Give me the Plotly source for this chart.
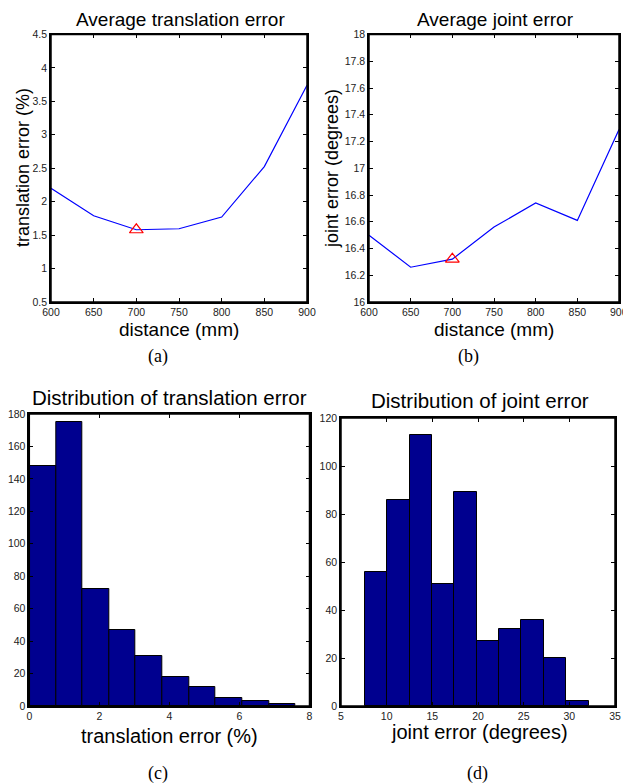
import plotly.graph_objects as go

W, H = 623, 783

# ---- data ----
distance_mm = [600, 650, 700, 750, 800, 850, 900]
avg_translation_err = [2.20, 1.79, 1.58, 1.595, 1.77, 2.525, 3.74]
avg_joint_err = [16.50, 16.26, 16.32, 16.56, 16.74, 16.61, 17.29]
best_distance = 700
best_translation = 1.58
best_joint = 16.32

trans_bin_edges = [0.0, 0.76, 1.52, 2.28, 3.04, 3.80, 4.56, 5.32, 6.08, 6.84, 7.60]
trans_counts = [148, 175, 72, 47, 31, 18, 12, 5, 3, 1]

joint_bin_edges = [7.6, 10.05, 12.5, 14.95, 17.4, 19.85, 22.3, 24.75, 27.2, 29.65, 32.1]
joint_counts = [56, 86, 113, 51, 89, 27, 32, 36, 20, 2]

# ---- helpers ----
def px(x):
    return x / W

def py(y):
    return 1 - y / H

FONT = "Liberation Sans, Arial, Helvetica, sans-serif"
SERIF = "Liberation Serif, Times New Roman, serif"
BAR_COLOR = "#00008F"

fig = go.Figure()

# (a)
fig.add_trace(go.Scatter(x=distance_mm, y=avg_translation_err, mode="lines",
                         line=dict(color="#0000FF", width=1.2),
                         xaxis="x", yaxis="y", showlegend=False))
fig.add_trace(go.Scatter(x=[best_distance], y=[best_translation], mode="markers",
                         marker=dict(symbol="triangle-up-open", size=12,
                                     color="#FF0000", line=dict(width=1.2, color="#FF0000")),
                         xaxis="x", yaxis="y", showlegend=False))
# (b)
fig.add_trace(go.Scatter(x=distance_mm, y=avg_joint_err, mode="lines",
                         line=dict(color="#0000FF", width=1.2),
                         xaxis="x2", yaxis="y2", showlegend=False))
fig.add_trace(go.Scatter(x=[best_distance], y=[best_joint], mode="markers",
                         marker=dict(symbol="triangle-up-open", size=12,
                                     color="#FF0000", line=dict(width=1.2, color="#FF0000")),
                         xaxis="x2", yaxis="y2", showlegend=False))

# (c)
tc = [(a + b) / 2 for a, b in zip(trans_bin_edges[:-1], trans_bin_edges[1:])]
tw = [b - a for a, b in zip(trans_bin_edges[:-1], trans_bin_edges[1:])]
fig.add_trace(go.Bar(x=tc, y=trans_counts, width=tw,
                     marker=dict(color=BAR_COLOR, line=dict(color="black", width=1)),
                     xaxis="x3", yaxis="y3", showlegend=False))
# (d)
jc = [(a + b) / 2 for a, b in zip(joint_bin_edges[:-1], joint_bin_edges[1:])]
jw = [b - a for a, b in zip(joint_bin_edges[:-1], joint_bin_edges[1:])]
fig.add_trace(go.Bar(x=jc, y=joint_counts, width=jw,
                     marker=dict(color=BAR_COLOR, line=dict(color="black", width=1)),
                     xaxis="x4", yaxis="y4", showlegend=False))

TICKFONT = dict(family=FONT, size=10.5, color="#222")

def ax(domain, rng, dtick, tick0, anchor):
    return dict(domain=domain, range=rng, dtick=dtick, tick0=tick0, anchor=anchor,
                showline=True, linecolor="black", linewidth=1.5, mirror="allticks",
                ticks="inside", ticklen=4, tickcolor="black", tickwidth=1,
                showgrid=False, zeroline=False, fixedrange=True, automargin=False,
                tickfont=TICKFONT)

fig.update_layout(
    width=W, height=H, autosize=False,
    margin=dict(l=0, r=0, t=0, b=0, pad=0),
    paper_bgcolor="white", plot_bgcolor="white",
    bargap=0,
    xaxis=ax([px(51), px(307)], [600, 900], 50, 600, "y"),
    yaxis=ax([py(302), py(34.5)], [0.5, 4.5], 0.5, 0.5, "x"),
    xaxis2=ax([px(369), px(619)], [600, 900], 50, 600, "y2"),
    yaxis2=ax([py(302), py(34.5)], [16, 18], 0.2, 16, "x2"),
    xaxis3=ax([px(29.3), px(309.5)], [0, 8], 2, 0, "y3"),
    yaxis3=ax([py(706), py(414)], [0, 180], 20, 0, "x3"),
    xaxis4=ax([px(341), px(615)], [5, 35], 5, 5, "y4"),
    yaxis4=ax([py(706), py(418)], [0, 120], 20, 0, "x4"),
)

# frame boxes around each axes
for xa, ya in [("x", "y"), ("x2", "y2"), ("x3", "y3"), ("x4", "y4")]:
    fig.add_shape(type="rect", xref=f"{xa} domain", yref=f"{ya} domain",
                  x0=0, x1=1, y0=0, y1=1, line=dict(color="black", width=1.5),
                  fillcolor="rgba(0,0,0,0)", layer="above")

def text(t, x, y, size, family=FONT, angle=0, color="black"):
    fig.add_annotation(text=t, x=px(x), y=py(y), xref="paper", yref="paper",
                       showarrow=False, textangle=angle, xanchor="center", yanchor="middle",
                       font=dict(family=family, size=size, color=color))

# the last x tick label of (b) runs off the right edge in the original
fig.add_annotation(text=str(distance_mm[-1]), x=900, y=py(312), xref="x2", yref="paper",
                   showarrow=False, xanchor="center", yanchor="middle", font=TICKFONT)

# titles
text("Average translation error", 180, 19, 19)
text("Average joint error", 495, 19, 19)
text("Distribution of translation error", 169, 397, 20.5)
text("Distribution of joint error", 480, 400, 20.5)
# x-axis titles
text("distance (mm)", 179, 329, 19)
text("distance (mm)", 494, 329, 19)
text("translation error (%)", 169, 736, 20)
text("joint error (degrees)", 479, 732, 20)
# y-axis titles
text("translation error (%)", 23, 168, 18, angle=-90)
text("joint error (degrees)", 332, 169, 18, angle=-90)
# subfigure labels
text("(a)", 158, 356, 18, family=SERIF)
text("(b)", 468, 356, 18, family=SERIF)
text("(c)", 158, 773, 18, family=SERIF)
text("(d)", 477, 773, 18, family=SERIF)

fig.write_html("out.html", config={"responsive": False, "displayModeBar": False},
               post_script="document.body.style.margin='0';document.body.style.overflow='hidden';")
